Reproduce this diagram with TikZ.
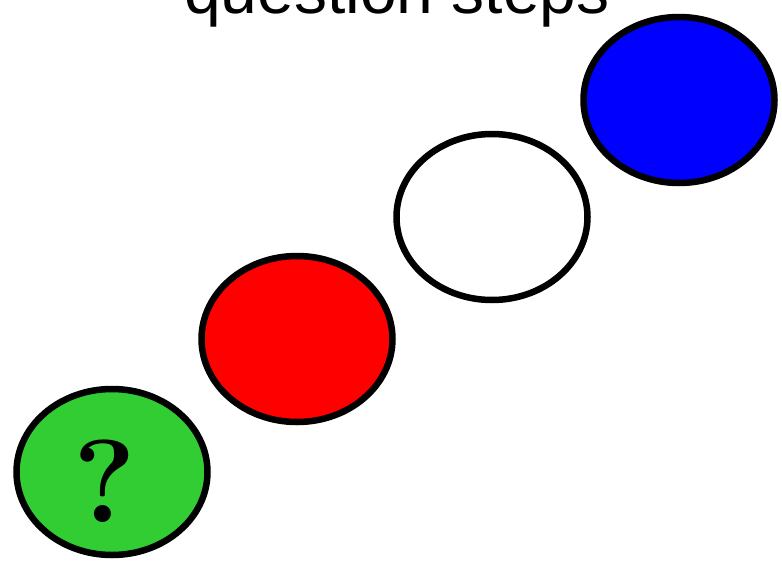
\documentclass[tikz,border=0pt]{standalone}
\usepackage{fontspec}
\newfontfamily\titlefont{Liberation Sans}
\usetikzlibrary{shapes.geometric}
\definecolor{ballgreen}{RGB}{50,205,50}
\begin{document}
\begin{tikzpicture}[x=1pt,y=-1pt,stepball/.style={ellipse,draw,line width=6.5pt,minimum width=191pt,minimum height=166pt,inner sep=0pt}]
        \useasboundingbox (0,0) rectangle (782,565);
        \node[stepball,fill=ballgreen] (s1) at (112,472) {};
        \node[stepball,fill=red] (s2) at (297,339) {};
        \node[stepball,fill=white] (s3) at (492,217) {};
        \node[stepball,fill=blue] (s4) at (679,100) {};

        \node[font=\fontsize{118}{120}\selectfont\bfseries] (mark) at (105,481) {?};
        \node[anchor=base,font=\titlefont\fontsize{66}{70}\selectfont,inner sep=0pt] (title) at (397,13) {question steps};
    \end{tikzpicture}
\end{document}
